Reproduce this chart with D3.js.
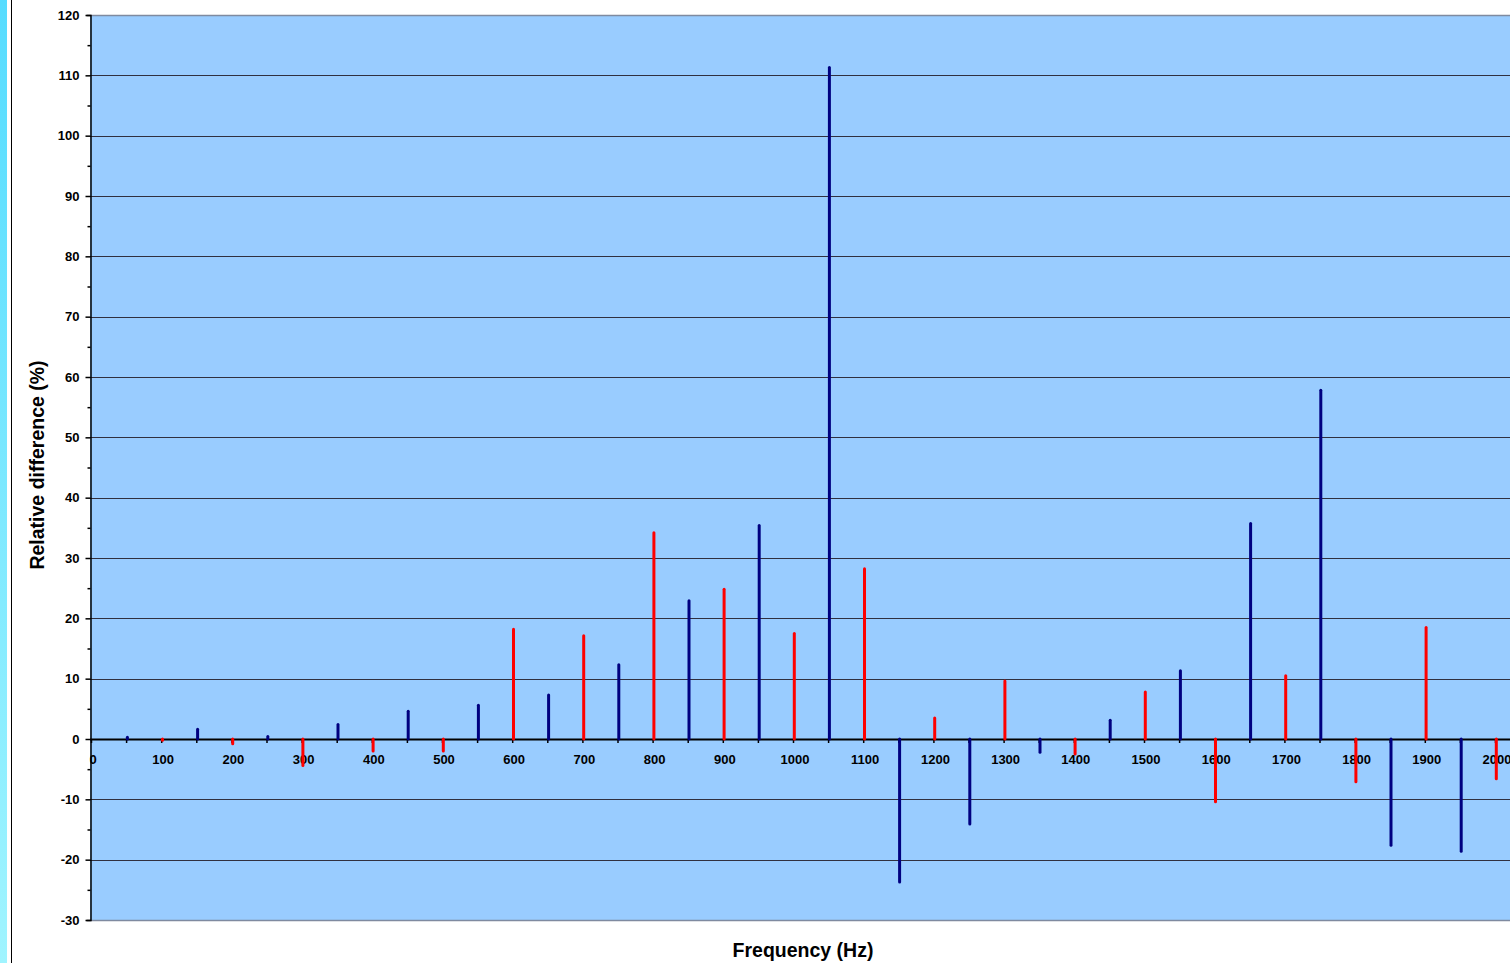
<!DOCTYPE html>
<html><head><meta charset="utf-8">
<script src="https://cdn.jsdelivr.net/npm/d3@7"></script>
<style>html,body{margin:0;padding:0;background:#fff;overflow:hidden}</style>
</head><body>
<svg id="c" width="1510" height="963"></svg>
<script>
const blueFreq = [50,150,250,350,450,550,650,750,850,950,1050,1150,1250,1350,1450,1550,1650,1750,1850,1950];
const blueVals = [0.3,1.6,0.4,2.4,4.6,5.6,7.3,12.3,22.9,35.4,111.3,-23.7,-14.1,-2.2,3.1,11.3,35.7,57.8,-17.6,-18.6];
const redFreq = [100,200,300,400,500,600,700,800,900,1000,1100,1200,1300,1400,1500,1600,1700,1800,1900,2000];
const redVals = [-0.2,-0.8,-4.4,-2.0,-2.0,18.2,17.1,34.2,24.8,17.5,28.2,3.5,9.6,-2.5,7.8,-10.4,10.5,-7.1,18.5,-6.6];
const yTicks = [120,110,100,90,80,70,60,50,40,30,20,10,0,-10,-20,-30];
const xTicks = [0,100,200,300,400,500,600,700,800,900,1000,1100,1200,1300,1400,1500,1600,1700,1800,1900,2000];

const svg = d3.select("#c");
const x = d3.scaleLinear().domain([0,2000]).range([91,1495]);
const y = d3.scaleLinear().domain([-30,120]).range([920,15]);
const font = "'Liberation Sans', Arial, sans-serif";
const barShift = 1.3;

// left cyan strip
const defs = svg.append("defs");
const g = defs.append("linearGradient").attr("id","cy").attr("x1",0).attr("y1",0).attr("x2",0).attr("y2",1);
g.append("stop").attr("offset","0%").attr("stop-color","#55dcff");
g.append("stop").attr("offset","100%").attr("stop-color","#a0f4ff");
svg.append("rect").attr("x",0).attr("y",0).attr("width",7).attr("height",963).attr("fill","url(#cy)");
svg.append("line").attr("x1",11.5).attr("x2",11.5).attr("y1",0).attr("y2",963).attr("stroke","#000").attr("stroke-width",1);

// plot area
svg.append("rect").attr("x",90).attr("y",y(120)).attr("width",1430).attr("height",y(-30)-y(120)).attr("fill","#99ccff");

// gridlines
svg.append("g").selectAll("line").data(yTicks.filter(d=>d!==0)).join("line")
  .attr("x1",90).attr("x2",1510)
  .attr("y1",d=>Math.round(y(d))+0.5).attr("y2",d=>Math.round(y(d))+0.5)
  .attr("stroke",d=>(d===120||d===-30)?"#7f8aa0":"#303040").attr("stroke-width",d=>(d===120||d===-30)?1.5:1);

// y axis
const yAxis = d3.axisLeft(y).tickValues(d3.range(-30,121,5)).tickSize(4)
  .tickFormat(d=> d%10===0 ? d : "");
const ya = svg.append("g").attr("transform","translate(90.5,0)").call(yAxis);
ya.select(".domain").attr("stroke","#000").attr("stroke-width",1.5);
ya.selectAll(".tick line").attr("stroke","#000").attr("stroke-width",1.5)
  .attr("x2",d=>d%10===0?-5:-3);
ya.selectAll("text").attr("font-family",font).attr("font-size",13).attr("font-weight","bold").attr("fill","#000").attr("x",-11);

// x axis on zero line
const xAxis = d3.axisBottom(x).tickValues(d3.range(0,2001,50)).tickSize(4)
  .tickFormat(d=> d%100===0 ? d : "");
const xa = svg.append("g").attr("transform",`translate(0,${y(0)})`).call(xAxis);
xa.select(".domain").attr("d","M90,0.5H1510").attr("stroke","#000").attr("stroke-width",2);
xa.selectAll(".tick line").attr("stroke","#000").attr("stroke-width",1.5);
xa.selectAll("text").attr("font-family",font).attr("font-size",13).attr("font-weight","bold").attr("fill","#000").attr("y",15.5).attr("x",1.5);

// bars (red then blue), drawn over the axis labels as in the reference
svg.append("g").selectAll("line").data(redFreq.map((f,i)=>({f,v:redVals[i]}))).join("line")
  .attr("x1",d=>x(d.f)+barShift).attr("x2",d=>x(d.f)+barShift)
  .attr("y1",y(0)).attr("y2",d=>y(d.v))
  .attr("stroke","#ff0000").attr("stroke-width",3).attr("stroke-linecap","round");
svg.append("g").selectAll("line").data(blueFreq.map((f,i)=>({f,v:blueVals[i]}))).join("line")
  .attr("x1",d=>x(d.f)+barShift).attr("x2",d=>x(d.f)+barShift)
  .attr("y1",y(0)).attr("y2",d=>y(d.v))
  .attr("stroke","#000080").attr("stroke-width",3).attr("stroke-linecap","round");

// axis titles
svg.append("text").attr("x",803).attr("y",957).attr("text-anchor","middle")
  .attr("font-family",font).attr("font-size",19.5).attr("font-weight","bold").text("Frequency (Hz)");
svg.append("text").attr("transform","translate(44,465) rotate(-90)").attr("text-anchor","middle")
  .attr("font-family",font).attr("font-size",19.5).attr("font-weight","bold").text("Relative difference (%)");
</script>
</body></html>
